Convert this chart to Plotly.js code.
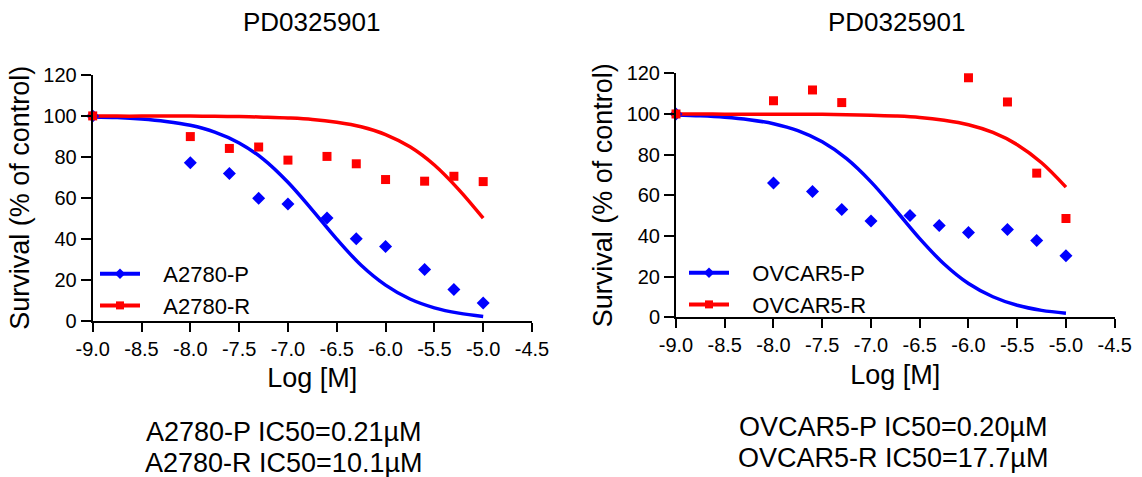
<!DOCTYPE html>
<html>
<head>
<meta charset="utf-8">
<script src="https://cdn.plot.ly/plotly-3.0.1.min.js"></script>
<style>html,body{margin:0;padding:0;background:#fff;}#chart{width:1142px;height:477px;}</style>
</head>
<body>
<div id="chart"></div>
<script>
// Measured concentrations (log M)
const logConc = [-9, -8, -7.6, -7.3, -7, -6.6, -6.3, -6, -5.6, -5.3, -5];
const a2780P = [100, 77.1, 71.8, 59.7, 57.0, 50.1, 39.9, 36.2, 24.9, 15.1, 8.5];
const a2780R = [100, 89.9, 84.1, 84.8, 78.4, 80.2, 76.6, 68.9, 68.1, 70.5, 67.9];
const ovcarP = [100, 66.1, 61.9, 53.0, 47.3, 50.1, 45.2, 41.7, 43.2, 37.8, 30.3];
const ovcarR = [100, 106.5, 111.8, 105.6, null, null, null, 117.8, 105.9, 70.9, 48.6];

// Fitted curves
const curveX = [-9, -8.75, -8.5, -8.25, -8, -7.75, -7.5, -7.25, -7, -6.75, -6.5, -6.25, -6, -5.75, -5.5, -5.25, -5];
const a2780PFit = [99.5, 99.2, 98.5, 97.3, 95.4, 92.1, 86.8, 78.8, 67.6, 54.0, 39.8, 27.0, 17.3, 10.5, 6.2, 3.6, 2.0];
const a2780RFit = [100, 99.9, 99.9, 99.9, 99.9, 99.8, 99.7, 99.4, 99.0, 98.3, 96.9, 94.7, 90.9, 84.9, 76.0, 64.0, 50.0];
const ovcarPFit = [99.5, 99.1, 98.4, 97.2, 95.2, 91.8, 86.3, 78.0, 66.6, 52.9, 38.7, 26.2, 16.6, 10.1, 5.9, 3.4, 2.0];
const ovcarRFit = [100, 100, 99.9, 99.9, 99.9, 99.9, 99.8, 99.6, 99.4, 99.0, 98.3, 96.9, 94.7, 90.9, 84.9, 76.0, 64.0];

const xTicks = [-9, -8.5, -8, -7.5, -7, -6.5, -6, -5.5, -5, -4.5];
const xTickText = ['-9.0', '-8.5', '-8.0', '-7.5', '-7.0', '-6.5', '-6.0', '-5.5', '-5.0', '-4.5'];
const yTicks = [0, 20, 40, 60, 80, 100, 120];
const plotTitle = 'PD0325901';
const labelsLeft = ['A2780-P', 'A2780-R'];
const labelsRight = ['OVCAR5-P', 'OVCAR5-R'];
const icLeft = ['A2780-P IC50=0.21µM', 'A2780-R IC50=10.1µM'];
const icRight = ['OVCAR5-P IC50=0.20µM', 'OVCAR5-R IC50=17.7µM'];

const BLUE = '#0000ff', RED = '#ff0000';
const FONT = 'Arial, "Liberation Sans", sans-serif';
const PAD = '\u00a0\u00a0\u00a0';

function panel(xa, ya, lg, pY, rY, pFit, rFit, labels) {
  return [
    {x: curveX, y: pFit, xaxis: xa, yaxis: ya, mode: 'lines', line: {color: BLUE, width: 3.5, shape: 'spline'}, showlegend: false, hoverinfo: 'skip'},
    {x: curveX, y: rFit, xaxis: xa, yaxis: ya, mode: 'lines', line: {color: RED, width: 3.5, shape: 'spline'}, showlegend: false, hoverinfo: 'skip'},
    {x: logConc, y: pY, xaxis: xa, yaxis: ya, mode: 'markers', marker: {symbol: 'diamond', size: 10, color: BLUE}, showlegend: false, cliponaxis: false},
    {x: logConc, y: rY, xaxis: xa, yaxis: ya, mode: 'markers', marker: {symbol: 'square', size: 9, color: RED}, showlegend: false, cliponaxis: false},
    {x: [null], y: [null], xaxis: xa, yaxis: ya, mode: 'lines+markers', name: PAD + labels[0], legend: lg, line: {color: BLUE, width: 4}, marker: {symbol: 'diamond', size: 8, color: BLUE}},
    {x: [null], y: [null], xaxis: xa, yaxis: ya, mode: 'lines+markers', name: PAD + labels[1], legend: lg, line: {color: RED, width: 4}, marker: {symbol: 'square', size: 8, color: RED}}
  ];
}

const data = [].concat(
  panel('x', 'y', 'legend', a2780P, a2780R, a2780PFit, a2780RFit, labelsLeft),
  panel('x2', 'y2', 'legend2', ovcarP, ovcarR, ovcarPFit, ovcarRFit, labelsRight)
);

function xaxis(dom, anchor) {
  return {domain: dom, anchor: anchor, range: [-9, -4.5], tickvals: xTicks, ticktext: xTickText,
    showgrid: false, zeroline: false, showline: true, linecolor: '#000', linewidth: 2,
    ticks: 'outside', ticklen: 9, tickwidth: 2, tickcolor: '#000',
    tickfont: {size: 20, color: '#000', family: FONT},
    title: {text: 'Log [M]', font: {size: 27, color: '#000', family: FONT}, standoff: 10}};
}
function yaxis(dom, anchor) {
  return {domain: dom, anchor: anchor, range: [0, 120], tickvals: yTicks,
    showgrid: false, zeroline: false, showline: true, linecolor: '#000', linewidth: 2,
    ticks: 'outside', ticklen: 10, tickwidth: 2, tickcolor: '#000',
    tickfont: {size: 20, color: '#000', family: FONT},
    title: {text: 'Survival (% of control)', font: {size: 27, color: '#000', family: FONT}, standoff: 6}};
}

const H = 477, W = 1142;
const legendBase = {bgcolor: 'rgba(0,0,0,0)', font: {size: 22, color: '#000', family: FONT}, xanchor: 'left', yanchor: 'top', itemwidth: 40, tracegroupgap: 0};

const annFont = {size: 27, color: '#000', family: FONT};
const titleFont = {size: 26, color: '#000', family: FONT};
function ann(text, x, y, f) {
  return {text: text, x: x / W, y: 1 - y / H, xref: 'paper', yref: 'paper', xanchor: 'center', yanchor: 'middle', showarrow: false, font: f};
}
const annotations = [
  ann(plotTitle, 311, 22, titleFont),
  ann(plotTitle, 896, 22, titleFont),
  ann(icLeft[0], 283, 432, annFont),
  ann(icLeft[1], 283, 463, annFont),
  ann(icRight[0], 893, 427, annFont),
  ann(icRight[1], 893, 458, annFont)
];

const layout = {
  width: W, height: H,
  margin: {l: 0, r: 0, t: 0, b: 0},
  paper_bgcolor: '#fff', plot_bgcolor: '#fff',
  font: {family: FONT, color: '#000'},
  xaxis: xaxis([92.7 / W, 532 / W], 'y'),
  yaxis: yaxis([1 - 320.5 / H, 1 - 75 / H], 'x'),
  xaxis2: xaxis([676 / W, 1114.7 / W], 'y2'),
  yaxis2: yaxis([1 - 317.3 / H, 1 - 73.3 / H], 'x2'),
  legend: Object.assign({x: 95 / W, y: 1 - 253 / H}, legendBase),
  legend2: Object.assign({x: 684 / W, y: 1 - 252 / H}, legendBase),
  annotations: annotations
};

Plotly.newPlot('chart', data, layout, {displayModeBar: false, staticPlot: true});
</script>
</body>
</html>
